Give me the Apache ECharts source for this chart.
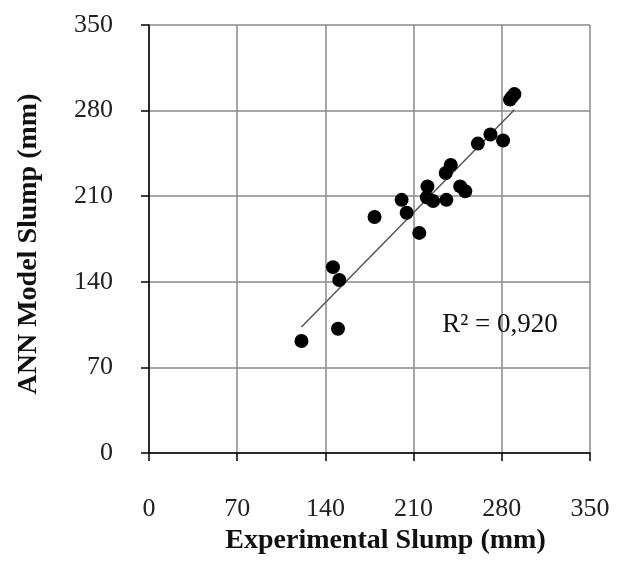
<!DOCTYPE html>
<html>
<head>
<meta charset="utf-8">
<script src="https://cdn.jsdelivr.net/npm/echarts@6/dist/echarts.min.js"></script>
<style>
    html, body { margin: 0; padding: 0; background: #fff; }
    #chart { width: 617px; height: 571px; }
</style>
</head>
<body>
<div id="chart"></div>
<script>
"use strict"

// 实测值 (mm)
let experimental = [121, 146, 150, 151, 179, 200.5, 204.5, 214.5, 220.5, 221, 225.5, 235.5, 236, 239.5, 247, 251, 261, 271, 281, 286.5, 288, 290];
// ANN 预测值 (mm)
let predicted = [91.6, 152, 101.6, 141.5, 193, 207, 196.5, 180, 209, 218, 206, 229, 207, 235.5, 218, 214, 253, 260.5, 255.5, 289, 291, 293.5];
// 刻度
let ticks = [0, 70, 140, 210, 280, 350];
let r2Text = "R² = 0,920";

// 线性回归，趋势线
function fitLine(xs, ys) {
    let n = xs.length;
    let mx = xs.reduce((a, b) => a + b, 0) / n;
    let my = ys.reduce((a, b) => a + b, 0) / n;
    let sxy = 0, sxx = 0;
    for (let i = 0; i < n; i++) {
        sxy += (xs[i] - mx) * (ys[i] - my);
        sxx += (xs[i] - mx) * (xs[i] - mx);
    }
    let k = sxy / sxx;
    let b = my - k * mx;
    let x0 = Math.min(...xs), x1 = Math.max(...xs);
    return [[x0, k * x0 + b], [x1, k * x1 + b]];
}

let points = experimental.map((x, i) => [x, predicted[i]]);
let trend = fitLine(experimental, predicted);

let serif = "'Liberation Serif', 'DejaVu Serif', serif";

function axis(name, gap, margin, pad) {
    return {
        type: "value",
        min: ticks[0],
        max: ticks[ticks.length - 1],
        interval: 70,
        name: name,
        nameLocation: "middle",
        nameGap: gap,
        nameTextStyle: { fontFamily: serif, fontSize: 28, fontWeight: "bold", color: "#111", padding: pad },
        axisLine: { show: true, lineStyle: { color: "#000", width: 1.5 } },
        axisTick: { show: true, length: 8, lineStyle: { color: "#000", width: 1.5 } },
        axisLabel: { fontFamily: serif, fontSize: 26, color: "#222", margin: margin },
        splitLine: { show: true, lineStyle: { color: "#8a8a8a", width: 1.5 } }
    };
}

let myChart = echarts.init(document.getElementById("chart"));
let option = {
    backgroundColor: "#fff",
    animation: false,
    grid: { left: 149, right: 27, top: 25, bottom: 118 },
    xAxis: axis("Experimental Slump (mm)", 61, 43, [0, 0, 0, 32]),
    yAxis: axis("ANN Model Slump (mm)", 106, 36, [0, 10, 0, 0]),
    series: [{
        type: "line",
        data: trend,
        symbol: "none",
        lineStyle: { color: "#555", width: 1.5 },
        z: 2,
        markPoint: {
            symbol: "circle",
            symbolSize: 0,
            label: { show: true, formatter: r2Text, fontFamily: serif, fontSize: 27, color: "#111" },
            data: [{ coord: [278.6, 104.7] }]
        }
    }, {
        type: "scatter",
        data: points,
        symbol: "circle",
        symbolSize: 14,
        itemStyle: { color: "#000", opacity: 1 },
        z: 3
    }]
};
myChart.setOption(option);
</script>
</body>
</html>
